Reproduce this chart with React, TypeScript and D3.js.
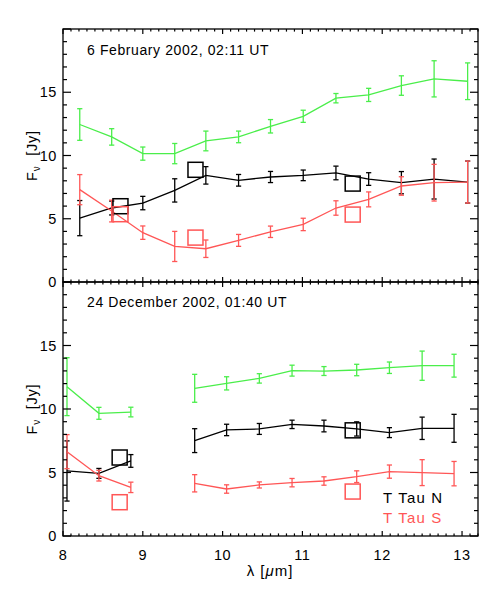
import React from "react";
import * as d3 from "d3";

// ---------- data ----------
const topWl = [8.21, 8.61, 9.0, 9.4, 9.79, 10.2, 10.6, 11.01, 11.42, 11.83, 12.24, 12.65, 13.07];
const topTotal = [12.45, 11.47, 10.15, 10.15, 11.15, 11.47, 12.31, 13.1, 14.53, 14.79, 15.53, 16.06, 15.87];
const topTotalErr = [1.25, 0.65, 0.52, 0.8, 0.78, 0.46, 0.53, 0.48, 0.37, 0.52, 0.77, 1.43, 1.45];
const topN = [5.05, 5.85, 6.24, 7.24, 8.43, 8.04, 8.3, 8.43, 8.62, 8.14, 7.85, 8.14, 7.9];
const topNErr = [1.39, 0.55, 0.53, 0.92, 0.69, 0.46, 0.44, 0.42, 0.54, 0.5, 0.88, 1.58, 1.66];
const topS = [7.3, 5.61, 3.9, 2.81, 2.63, 3.29, 3.97, 4.55, 5.85, 6.53, 7.59, 7.85, 7.9];
const topSErr = [1.19, 0.86, 0.53, 1.19, 0.69, 0.47, 0.45, 0.49, 0.57, 0.59, 0.73, 1.45, 1.66];
const topSqWl = [8.72, 9.66, 11.63];
const topSqN = [5.99, 8.87, 7.78];
const topSqS = [5.36, 3.51, 5.33];

const botWl = [8.05, 8.45, 8.85, 9.65, 10.05, 10.46, 10.87, 11.27, 11.68, 12.09, 12.5, 12.9];
const botTotal = [11.76, 9.66, 9.76, 11.63, 12.02, 12.41, 13.02, 12.99, 13.07, 13.25, 13.41, 13.41];
const botTotalErr = [2.28, 0.47, 0.38, 1.1, 0.52, 0.37, 0.43, 0.35, 0.45, 0.45, 1.15, 0.9];
const botN = [5.12, 4.93, 5.91, 7.51, 8.35, 8.43, 8.79, 8.66, 8.43, 8.14, 8.48, 8.48];
const botNErr = [2.37, 0.39, 0.5, 0.94, 0.45, 0.43, 0.33, 0.46, 0.56, 0.39, 0.88, 1.1];
const botS = [6.64, 4.75, 3.83, 4.15, 3.7, 4.02, 4.2, 4.33, 4.67, 5.07, 4.99, 4.91];
const botSErr = [1.34, 0.42, 0.41, 0.68, 0.33, 0.24, 0.33, 0.33, 0.46, 0.52, 1.02, 0.96];
const botSqWl = [8.71, 11.63];
const botSqN = [6.18, 8.32];
const botSqS = [2.66, 3.5];

const xTicks = [8, 9, 10, 11, 12, 13];
const yTickLabels = [0, 5, 10, 15];
const titles = ["6 February 2002, 02:11 UT", "24 December 2002, 01:40 UT"];
const legendLabels = ["T Tau N", "T Tau S"];

// ---------- layout ----------
const W = 488, H = 596;
const L = 63, R = 478, T = 29, M = 282, B = 536;
const GREEN = "#4aee4a";
const RED = "#ff5656";
const BLACK = "#000";
const FONT = "'Liberation Sans', Arial, Helvetica, sans-serif";

const x = d3.scaleLinear().domain([8, 13.2]).range([L, R]);
const yTop = d3.scaleLinear().domain([0, 20]).range([M, T]);
const yBot = d3.scaleLinear().domain([0, 20]).range([B, M]);

function segments(wl: number[], v: number[]) {
  const segs: [number, number][][] = [];
  let cur: [number, number][] = [];
  wl.forEach((w, i) => {
    if (i > 0 && w - wl[i - 1] > 0.6) {
      segs.push(cur);
      cur = [];
    }
    cur.push([w, v[i]]);
  });
  segs.push(cur);
  return segs;
}

function Series({ wl, v, err, y, color }: any) {
  const line = d3
    .line<[number, number]>()
    .x((d) => x(d[0]))
    .y((d) => y(d[1]));
  const cap = 2.6;
  return (
    <g stroke={color} fill="none" strokeWidth={1.3}>
      {segments(wl, v).map((s, i) => (
        <path key={i} d={line(s) || ""} />
      ))}
      {wl.map((w: number, i: number) => {
        const cx = x(w);
        const y1 = y(v[i] + err[i]);
        const y2 = y(v[i] - err[i]);
        return (
          <g key={"e" + i}>
            <line x1={cx} x2={cx} y1={y1} y2={y2} />
            <line x1={cx - cap} x2={cx + cap} y1={y1} y2={y1} />
            <line x1={cx - cap} x2={cx + cap} y1={y2} y2={y2} />
          </g>
        );
      })}
    </g>
  );
}

function Squares({ wl, v, y, color }: any) {
  const s = 7.5;
  return (
    <g stroke={color} fill="none" strokeWidth={1.5}>
      {wl.map((w: number, i: number) => (
        <rect key={i} x={x(w) - s} y={y(v[i]) - s} width={2 * s} height={2 * s} />
      ))}
    </g>
  );
}

function Axes({ y, top, bottom, showX }: any) {
  const minorX = d3.range(80, 133).map((d) => d / 10).filter((d) => Math.abs(d - Math.round(d)) > 1e-6);
  const minorY = d3.range(0, 21).filter((d) => d % 5 !== 0);
  const majorY = [0, 5, 10, 15, 20];
  const xMajLen = 5, xMinLen = 2.6, yMajLen = 8, yMinLen = 4;
  return (
    <g stroke={BLACK} strokeWidth={1.2} fill="none">
      <rect x={L} y={top} width={R - L} height={bottom - top} strokeWidth={1.3} />
      {xTicks.map((t) => (
        <g key={"xm" + t}>
          <line x1={x(t)} x2={x(t)} y1={bottom} y2={bottom - xMajLen} />
          <line x1={x(t)} x2={x(t)} y1={top} y2={top + xMajLen} />
        </g>
      ))}
      {minorX.map((t) => (
        <g key={"xn" + t}>
          <line x1={x(t)} x2={x(t)} y1={bottom} y2={bottom - xMinLen} />
          <line x1={x(t)} x2={x(t)} y1={top} y2={top + xMinLen} />
        </g>
      ))}
      {majorY.map((t) => (
        <g key={"ym" + t}>
          <line x1={L} x2={L + yMajLen} y1={y(t)} y2={y(t)} />
          <line x1={R} x2={R - yMajLen} y1={y(t)} y2={y(t)} />
        </g>
      ))}
      {minorY.map((t) => (
        <g key={"yn" + t}>
          <line x1={L} x2={L + yMinLen} y1={y(t)} y2={y(t)} />
          <line x1={R} x2={R - yMinLen} y1={y(t)} y2={y(t)} />
        </g>
      ))}
      <g stroke="none" fill={BLACK} fontFamily={FONT} fontSize={14.5} letterSpacing={0.6}>
        {yTickLabels.map((t) => (
          <text key={"yl" + t} x={57} y={y(t)} textAnchor="end" dominantBaseline="central">
            {t}
          </text>
        ))}
        {showX &&
          xTicks.map((t) => (
            <text key={"xl" + t} x={x(t)} y={560} textAnchor="middle">
              {t}
            </text>
          ))}
      </g>
      <text
        stroke="none"
        fill={BLACK}
        fontFamily={FONT}
        fontSize={14.5}
        letterSpacing={0.8}
        textAnchor="middle"
        transform={`translate(37,${(top + bottom) / 2}) rotate(-90)`}
      >
        F<tspan fontSize={10} dy={3}>ν</tspan>
        <tspan dy={-3}>{"\u00a0 [Jy]"}</tspan>
      </text>
    </g>
  );
}

export default function App() {
  return (
    <svg
      width={W}
      height={H}
      viewBox={`0 0 ${W} ${H}`}
      style={{ position: "absolute", left: 0, top: 0, background: "#fff" }}
    >
      <rect x={0} y={0} width={W} height={H} fill="#fff" />
      {/* top panel */}
      <Series wl={topWl} v={topTotal} err={topTotalErr} y={yTop} color={GREEN} />
      <Series wl={topWl} v={topN} err={topNErr} y={yTop} color={BLACK} />
      <Series wl={topWl} v={topS} err={topSErr} y={yTop} color={RED} />
      <Squares wl={topSqWl} v={topSqN} y={yTop} color={BLACK} />
      <Squares wl={topSqWl} v={topSqS} y={yTop} color={RED} />
      <Axes y={yTop} top={T} bottom={M} showX={false} />
      <text x={87} y={55} fontFamily={FONT} fontSize={14} letterSpacing={0.6} fill={BLACK}>
        {titles[0]}
      </text>

      {/* bottom panel */}
      <Series wl={botWl} v={botTotal} err={botTotalErr} y={yBot} color={GREEN} />
      <Series wl={botWl} v={botN} err={botNErr} y={yBot} color={BLACK} />
      <Series wl={botWl} v={botS} err={botSErr} y={yBot} color={RED} />
      <Squares wl={botSqWl} v={botSqN} y={yBot} color={BLACK} />
      <Squares wl={botSqWl} v={botSqS} y={yBot} color={RED} />
      <Axes y={yBot} top={M} bottom={B} showX={true} />
      <text x={87} y={307} fontFamily={FONT} fontSize={14} letterSpacing={0.6} fill={BLACK}>
        {titles[1]}
      </text>

      <text x={383} y={503} fontFamily={FONT} fontSize={15} letterSpacing={1.2} fill={BLACK}>
        {legendLabels[0]}
      </text>
      <text x={383} y={523} fontFamily={FONT} fontSize={15} letterSpacing={1.2} fill={RED}>
        {legendLabels[1]}
      </text>

      <text x={270} y={576} textAnchor="middle" fontFamily={FONT} fontSize={15} letterSpacing={1} fill={BLACK}>
        λ {"["}<tspan fontStyle="italic">μ</tspan>m]
      </text>
    </svg>
  );
}
